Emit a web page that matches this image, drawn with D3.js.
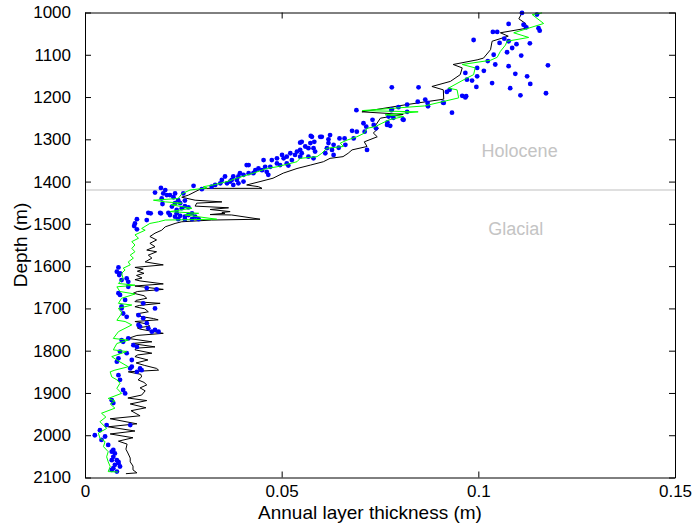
<!DOCTYPE html>
<html>
<head>
<meta charset="utf-8">
<script src="https://cdn.jsdelivr.net/npm/d3@7"></script>
<style>
  html, body { margin: 0; padding: 0; background: #fff; }
  svg { display: block; }
  text { font-family: "Liberation Sans", Arial, Helvetica, sans-serif; }
</style>
</head>
<body>
<svg id="chart" width="694" height="525"></svg>
<script>
// Annual layer thickness versus depth: [depth (m), thickness (m)]
// Black trace
const seriesBlack = [
  [1001,0.1111],[1015,0.1103],[1026,0.1120],[1037,0.1124],[1048,0.1056],[1056,0.1076],
  [1068,0.1035],[1088,0.1031],[1108,0.1013],[1112,0.0997],[1123,0.0936],[1131,0.0959],
  [1147,0.0954],[1163,0.0929],[1175,0.0882],[1183,0.0911],[1205,0.0912],[1218,0.0817],
  [1235,0.0704],[1241,0.0809],[1250,0.0751],[1268,0.0738],[1274,0.0746],[1285,0.0733],
  [1294,0.0743],[1306,0.0710],[1317,0.0717],[1325,0.0679],[1333,0.0669],[1341,0.0656],
  [1345,0.0623],[1353,0.0606],[1361,0.0573],[1369,0.0539],[1380,0.0504],[1392,0.0478],
  [1400,0.0445],[1408,0.0411],[1412,0.0441],[1416,0.0450],[1416,0.0297],[1424,0.0280],
  [1432,0.0263],[1437,0.0246],[1444,0.0280],[1448,0.0348],[1451,0.0284],[1458,0.0280],
  [1462,0.0365],[1466,0.0318],[1471,0.0369],[1473,0.0348],[1475,0.0356],[1478,0.0318],
  [1479,0.0373],[1489,0.0445],[1491,0.0322],[1495,0.0246],[1499,0.0229],[1507,0.0204],
  [1515,0.0195],[1522,0.0178],[1530,0.0165],[1538,0.0182],[1546,0.0165],[1554,0.0178],
  [1562,0.0157],[1566,0.0182],[1574,0.0161],[1581,0.0170],[1590,0.0153],[1597,0.0199],
  [1603,0.0127],[1607,0.0148],[1612,0.0133],[1617,0.0150],[1622,0.0131],[1628,0.0145],
  [1632,0.0127],[1635,0.0140],[1642,0.0199],[1647,0.0127],[1655,0.0199],[1660,0.0133],
  [1664,0.0123],[1670,0.0150],[1676,0.0157],[1681,0.0130],[1684,0.0127],[1688,0.0191],
  [1693,0.0138],[1696,0.0127],[1701,0.0152],[1708,0.0161],[1713,0.0131],[1718,0.0135],
  [1724,0.0174],[1727,0.0186],[1731,0.0127],[1737,0.0158],[1742,0.0165],[1746,0.0133],
  [1749,0.0140],[1759,0.0199],[1764,0.0132],[1771,0.0110],[1779,0.0170],[1783,0.0119],
  [1791,0.0178],[1794,0.0131],[1798,0.0127],[1806,0.0170],[1810,0.0134],[1814,0.0127],
  [1822,0.0160],[1829,0.0130],[1835,0.0152],[1842,0.0182],[1846,0.0187],[1850,0.0110],
  [1856,0.0142],[1862,0.0144],[1869,0.0135],[1875,0.0150],[1881,0.0157],[1888,0.0140],
  [1895,0.0153],[1905,0.0144],[1912,0.0109],[1918,0.0157],[1926,0.0115],[1935,0.0155],
  [1942,0.0117],[1954,0.0140],[1961,0.0064],[1973,0.0132],[1980,0.0059],[1990,0.0127],
  [1997,0.0064],[2006,0.0122],[2014,0.0085],[2021,0.0107],[2033,0.0104],[2042,0.0109],
  [2054,0.0115],[2063,0.0115],[2073,0.0122],[2082,0.0122],[2089,0.0132],[2091,0.0104]
];

// Green trace
const seriesGreen = [
  [1001,0.1162],[1005,0.1137],[1026,0.1166],[1048,0.1090],[1059,0.1128],[1068,0.1073],
  [1077,0.1069],[1092,0.1056],[1106,0.1048],[1113,0.1031],[1123,0.0959],[1131,0.0992],
  [1147,0.0988],[1155,0.0971],[1179,0.0924],[1183,0.0946],[1202,0.0950],[1221,0.0863],
  [1232,0.0705],[1235,0.0847],[1242,0.0763],[1246,0.0810],[1254,0.0773],[1262,0.0755],
  [1270,0.0738],[1274,0.0717],[1286,0.0709],[1294,0.0691],[1302,0.0666],[1309,0.0649],
  [1317,0.0657],[1321,0.0615],[1333,0.0602],[1341,0.0590],[1345,0.0547],[1353,0.0539],
  [1365,0.0488],[1369,0.0462],[1380,0.0428],[1392,0.0386],[1400,0.0361],[1408,0.0326],
  [1412,0.0301],[1415,0.0310],[1420,0.0267],[1429,0.0246],[1440,0.0237],[1444,0.0174],
  [1448,0.0204],[1451,0.0246],[1455,0.0219],[1463,0.0272],[1471,0.0216],[1475,0.0289],
  [1479,0.0254],[1489,0.0335],[1491,0.0204],[1495,0.0187],[1499,0.0165],[1511,0.0144],
  [1515,0.0153],[1526,0.0127],[1534,0.0136],[1542,0.0119],[1550,0.0127],[1558,0.0119],
  [1566,0.0127],[1574,0.0115],[1581,0.0123],[1590,0.0110],[1597,0.0115],[1605,0.0097],
  [1609,0.0102],[1617,0.0093],[1629,0.0097],[1641,0.0085],[1645,0.0127],[1649,0.0081],
  [1660,0.0089],[1666,0.0127],[1676,0.0093],[1688,0.0085],[1692,0.0119],[1700,0.0085],
  [1711,0.0094],[1728,0.0081],[1731,0.0102],[1739,0.0119],[1755,0.0085],[1771,0.0072],
  [1775,0.0110],[1783,0.0081],[1798,0.0072],[1802,0.0106],[1814,0.0068],[1824,0.0084],
  [1838,0.0110],[1846,0.0076],[1850,0.0064],[1862,0.0068],[1869,0.0081],[1877,0.0089],
  [1889,0.0081],[1901,0.0093],[1913,0.0059],[1919,0.0076],[1926,0.0064],[1936,0.0076],
  [1948,0.0042],[1957,0.0053],[1968,0.0038],[1984,0.0055],[1995,0.0034],[2007,0.0038],
  [2015,0.0051],[2027,0.0047],[2039,0.0059],[2051,0.0055],[2063,0.0059],[2074,0.0064],
  [2086,0.0059],[2087,0.0084]
];

// Blue point measurements
const seriesDots = [
  [1001,0.1111],[1005,0.1149],[1027,0.1077],[1029,0.1115],[1035,0.1122],[1037,0.1153],
  [1043,0.1156],[1046,0.1037],[1046,0.1048],[1062,0.1066],[1065,0.0988],[1072,0.1054],
  [1068,0.1077],[1075,0.1097],[1073,0.1131],[1084,0.1086],[1094,0.1073],[1100,0.1039],
  [1102,0.1109],[1115,0.1024],[1123,0.1043],[1127,0.1077],[1125,0.1177],[1143,0.0967],
  [1131,0.0997],[1138,0.1014],[1145,0.1094],[1151,0.1124],[1159,0.0971],[1161,0.0984],
  [1151,0.0997],[1167,0.1035],[1169,0.1132],[1176,0.0995],[1179,0.1081],[1177,0.0848],
  [1183,0.0927],[1188,0.0920],[1196,0.1107],[1191,0.1172],[1197,0.0959],[1201,0.0967],
  [1206,0.0865],[1218,0.0819],[1214,0.0871],[1214,0.0912],[1222,0.0872],[1177,0.0780],
  [1237,0.0933],[1253,0.0808],[1235,0.0819],[1224,0.0797],[1229,0.0780],[1246,0.0772],
  [1266,0.0768],[1268,0.0776],[1213,0.0910],[1198,0.0969],[1231,0.0690],[1231,0.0779],
  [1211,0.0846],[1249,0.0784],[1254,0.0810],[1254,0.0731],[1260,0.0769],[1266,0.0734],
  [1262,0.0708],[1270,0.0715],[1274,0.0740],[1282,0.0711],[1282,0.0691],[1298,0.0683],
  [1298,0.0660],[1298,0.0647],[1300,0.0619],[1294,0.0602],[1294,0.0577],[1306,0.0583],
  [1309,0.0619],[1313,0.0632],[1313,0.0662],[1325,0.0717],[1320,0.0645],[1325,0.0628],
  [1337,0.0632],[1321,0.0615],[1333,0.0611],[1309,0.0573],[1306,0.0551],[1317,0.0560],
  [1321,0.0568],[1321,0.0581],[1329,0.0585],[1325,0.0547],[1329,0.0539],[1333,0.0551],
  [1337,0.0534],[1341,0.0547],[1341,0.0568],[1345,0.0581],[1333,0.0522],[1341,0.0513],
  [1349,0.0526],[1345,0.0505],[1337,0.0501],[1345,0.0488],[1357,0.0488],[1357,0.0513],
  [1349,0.0475],[1365,0.0471],[1365,0.0458],[1349,0.0454],[1361,0.0496],[1362,0.0517],
  [1369,0.0441],[1373,0.0433],[1361,0.0416],[1380,0.0428],[1380,0.0416],[1384,0.0403],
  [1380,0.0394],[1388,0.0390],[1388,0.0377],[1396,0.0373],[1396,0.0386],[1400,0.0369],
  [1404,0.0361],[1388,0.0356],[1396,0.0348],[1404,0.0344],[1408,0.0331],[1408,0.0377],
  [1404,0.0390],[1400,0.0403],[1412,0.0322],[1418,0.0297],[1377,0.0462],[1384,0.0466],
  [1373,0.0450],[1292,0.0574],[1294,0.0598],[1290,0.0623],[1308,0.0547],[1280,0.0679],
  [1361,0.0411],[1410,0.0276],[1428,0.0250],
  [1420,0.0204],[1426,0.0178],[1415,0.0193],[1428,0.0199],[1432,0.0208],[1428,0.0229],
  [1432,0.0216],[1440,0.0195],[1437,0.0225],[1444,0.0237],[1445,0.0254],[1451,0.0242],
  [1451,0.0229],[1453,0.0197],[1458,0.0254],[1459,0.0221],[1463,0.0246],[1461,0.0263],
  [1467,0.0233],[1474,0.0212],[1475,0.0193],[1475,0.0167],[1479,0.0216],[1475,0.0233],
  [1481,0.0242],[1483,0.0254],[1479,0.0263],[1475,0.0272],[1483,0.0280],[1483,0.0229],
  [1489,0.0237],[1489,0.0254],[1489,0.0272],[1489,0.0289],[1491,0.0157],[1489,0.0132],
  [1499,0.0127],[1505,0.0125],[1513,0.0132],[1474,0.0161],[1474,0.0191],
  [1603,0.0085],[1613,0.0081],[1617,0.0089],[1633,0.0093],[1621,0.0087],[1629,0.0106],
  [1637,0.0110],[1664,0.0085],[1668,0.0089],[1649,0.0110],[1652,0.0157],[1655,0.0182],
  [1680,0.0102],[1688,0.0148],[1700,0.0178],[1700,0.0093],[1712,0.0097],[1720,0.0106],
  [1716,0.0136],[1723,0.0148],[1735,0.0157],[1739,0.0136],[1743,0.0140],[1747,0.0161],
  [1751,0.0178],[1755,0.0170],[1755,0.0187],[1771,0.0110],[1779,0.0097],[1787,0.0123],
  [1791,0.0132],[1802,0.0089],[1806,0.0106],[1818,0.0085],[1822,0.0119],[1838,0.0119],
  [1842,0.0140],[1826,0.0081],[1695,0.0093],[1775,0.0093],[1846,0.0144],
  [1842,0.0115],[1850,0.0132],[1858,0.0085],[1869,0.0089],[1893,0.0097],[1901,0.0102],
  [1917,0.0068],[1924,0.0072],[1976,0.0115],[1976,0.0055],[1988,0.0038],[2000,0.0025],
  [2003,0.0051],[2011,0.0042],[2023,0.0059],[2035,0.0072],[2039,0.0068],[2043,0.0076],
  [2051,0.0072],[2059,0.0081],[2066,0.0085],[2070,0.0076],[2078,0.0072],[2086,0.0081],
  [2063,0.0085],[2059,0.0068],[2074,0.0089],[2082,0.0068]
];

// Axis ticks and labels
const depthTicks = [1000,1100,1200,1300,1400,1500,1600,1700,1800,1900,2000,2100];
const thickTicks = [0, 0.05, 0.1, 0.15];
const thickTickLabels = ["0", "0.05", "0.1", "0.15"];
const transitionDepth = 1420;
const zoneLabels = [
  { text: "Holocene", depth: 1341, thick: 0.1105 },
  { text: "Glacial",  depth: 1527, thick: 0.1095 }
];

const svg = d3.select("#chart");
const plotLeft = 85, plotRight = 675, plotTop = 12.5, plotBottom = 477.5;

const x = d3.scaleLinear().domain([0, 0.15]).range([plotLeft, plotRight]);
const y = d3.scaleLinear().domain([1000, 2100]).range([plotTop, plotBottom]);

// Period boundary
svg.append("line")
  .attr("x1", plotLeft).attr("x2", plotRight)
  .attr("y1", y(transitionDepth)).attr("y2", y(transitionDepth))
  .attr("stroke", "#d4d4d4").attr("stroke-width", 1.5);

svg.selectAll("text.zone").data(zoneLabels).enter().append("text")
  .attr("class", "zone")
  .attr("x", d => x(d.thick)).attr("y", d => y(d.depth))
  .attr("text-anchor", "middle")
  .attr("font-size", 18)
  .attr("fill", "#c4c4c4")
  .text(d => d.text);

const line = d3.line().x(d => x(d[1])).y(d => y(d[0]));

svg.append("path").datum(seriesBlack)
  .attr("d", line).attr("fill", "none")
  .attr("stroke", "#000").attr("stroke-width", 1);

svg.append("g").selectAll("circle").data(seriesDots).enter().append("circle")
  .attr("cx", d => x(d[1])).attr("cy", d => y(d[0]))
  .attr("r", 2.4).attr("fill", "#0000ff");

svg.append("path").datum(seriesGreen)
  .attr("d", line).attr("fill", "none")
  .attr("stroke", "#00ff00").attr("stroke-width", 1);

// Axes with inward ticks on all four sides
const tick = 6;
const axisStyle = g => {
  g.select(".domain").attr("stroke", "#000").attr("stroke-width", 1);
  g.selectAll(".tick line").attr("stroke", "#000");
  g.selectAll("text").attr("font-size", 17).attr("fill", "#000")
    .attr("font-family", "'Liberation Sans', Arial, sans-serif");
};

svg.append("g").attr("transform", `translate(0,${plotBottom})`)
  .call(d3.axisBottom(x).tickValues(thickTicks)
    .tickFormat((d, i) => thickTickLabels[i])
    .tickSizeInner(-tick).tickSizeOuter(0).tickPadding(7))
  .call(axisStyle);

svg.append("g").attr("transform", `translate(0,${plotTop})`)
  .call(d3.axisTop(x).tickValues(thickTicks).tickFormat("")
    .tickSizeInner(-tick).tickSizeOuter(0))
  .call(axisStyle);

svg.append("g").attr("transform", `translate(${plotLeft},0)`)
  .call(d3.axisLeft(y).tickValues(depthTicks).tickFormat(d3.format("d"))
    .tickSizeInner(-tick).tickSizeOuter(0).tickPadding(14))
  .call(axisStyle);

svg.append("g").attr("transform", `translate(${plotRight},0)`)
  .call(d3.axisRight(y).tickValues(depthTicks).tickFormat("")
    .tickSizeInner(-tick).tickSizeOuter(0))
  .call(axisStyle);

// Axis titles
svg.append("text")
  .attr("x", 370).attr("y", 519)
  .attr("text-anchor", "middle").attr("font-size", 19)
  .text("Annual layer thickness (m)");

svg.append("text")
  .attr("transform", `translate(27,${(plotTop + plotBottom) / 2}) rotate(-90)`)
  .attr("text-anchor", "middle").attr("font-size", 19)
  .text("Depth (m)");
</script>
</body>
</html>
